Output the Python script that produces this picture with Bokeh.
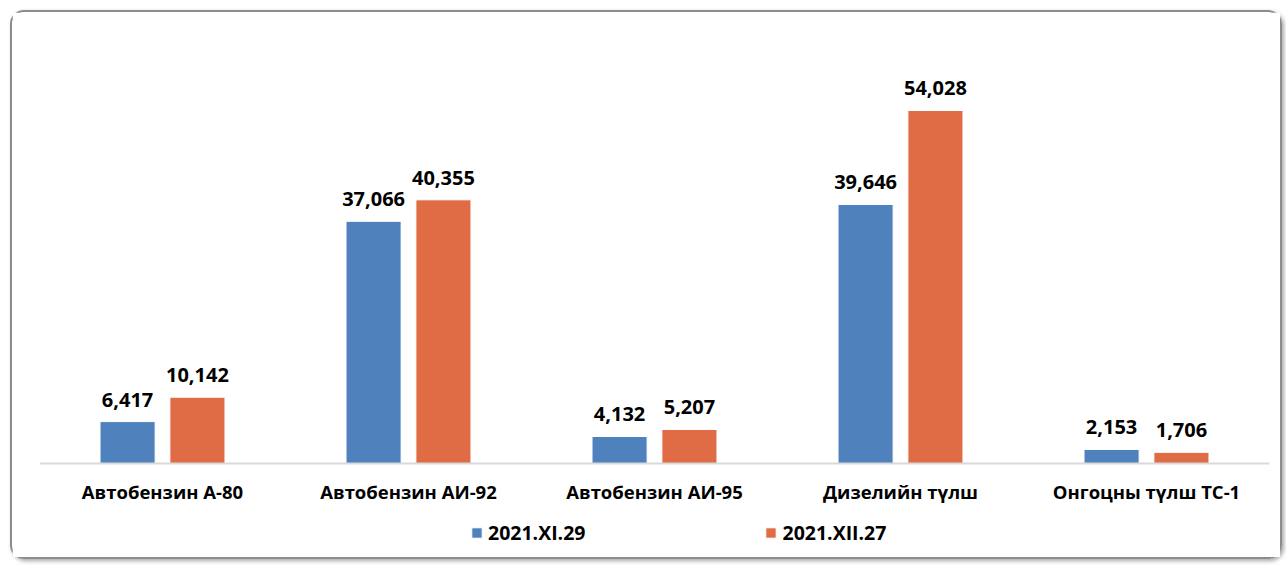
from bokeh.plotting import figure
from bokeh.models import ColumnDataSource, Range1d, Legend, LegendItem, FactorRange
from bokeh.transform import dodge
from bokeh.core.properties import value
from bokeh.embed import file_html
from bokeh.resources import INLINE

categories = ["Автобензин А-80", "Автобензин АИ-92", "Автобензин АИ-95", "Дизелийн түлш", "Онгоцны түлш ТС-1"]
series_names = ["2021.XI.29", "2021.XII.27"]
nov_values = [6417, 37066, 4132, 39646, 2153]
dec_values = [10142, 40355, 5207, 54028, 1706]
colors = ["#4f81bd", "#e06c46"]

src = ColumnDataSource(dict(
    cat=categories,
    nov=nov_values,
    dec=dec_values,
    nov_lbl=[f"{v:,}" for v in nov_values],
    dec_lbl=[f"{v:,}" for v in dec_values],
))

p = figure(x_range=FactorRange(*categories, range_padding=0), y_range=Range1d(-13775, 64740),
           width=1272, height=549, output_backend="svg", toolbar_location=None,
           min_border_left=27, min_border_right=15, min_border_top=28, min_border_bottom=8)
p.styles = {"border": "2px solid #8c8c8c", "border-radius": "14px",
            "box-shadow": "2px 2px 4px rgba(0,0,0,0.35)",
            "margin-left": "10px", "margin-top": "10px"}

bw = 0.224
r1 = p.vbar(x=dodge("cat", -0.142, range=p.x_range), top="nov", width=bw, source=src,
            fill_color=colors[0], line_color="white", line_width=1)
r2 = p.vbar(x=dodge("cat", 0.142, range=p.x_range), top="dec", width=bw, source=src,
            fill_color=colors[1], line_color="white", line_width=1)

for col, lbl, off in [("nov", "nov_lbl", -0.142), ("dec", "dec_lbl", 0.142)]:
    p.text(x=dodge("cat", off, range=p.x_range), y=col, text=lbl, source=src,
           text_align="center", text_baseline="bottom", y_offset=-15,
           text_font=value("Open Sans"), text_font_style="bold",
           text_font_size="20px", text_color="#000000")

p.xgrid.visible = False
p.ygrid.visible = False
p.yaxis.visible = False
p.outline_line_color = None
p.xaxis.fixed_location = 0
p.xaxis.axis_line_color = "#d9d9d9"
p.xaxis.axis_line_width = 2
p.xaxis.major_tick_line_color = None
p.xaxis.minor_tick_line_color = None
p.xaxis.major_label_text_font = "Open Sans"
p.xaxis.major_label_text_font_style = "bold"
p.xaxis.major_label_text_font_size = "18.5px"
p.xaxis.major_label_text_color = "#000000"
p.xaxis.major_label_standoff = 10

legend = Legend(items=[LegendItem(label=series_names[0], renderers=[r1]),
                       LegendItem(label=series_names[1], renderers=[r2])],
                orientation="horizontal", location=(431, 7),
                glyph_width=13, glyph_height=13, spacing=179,
                label_text_font="Open Sans", label_text_font_style="bold",
                label_text_font_size="19.5px", label_standoff=5,
                label_text_color="#000000",
                border_line_color=None, background_fill_alpha=0,
                margin=0, padding=6)
p.add_layout(legend, "center")

open("out.html", "w").write(file_html(p, INLINE))
